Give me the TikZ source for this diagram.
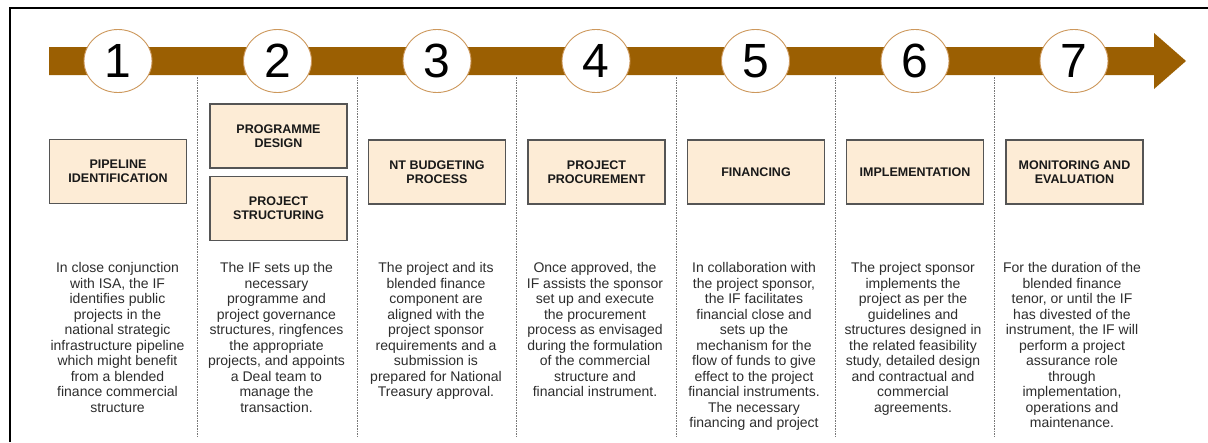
\documentclass[tikz,border=0pt]{standalone}
\usepackage{fontspec}
\setmainfont{Liberation Sans}
\usetikzlibrary{shapes.geometric}
\definecolor{barbrown}{RGB}{155,95,2}
\definecolor{ringtan}{RGB}{205,152,92}
\definecolor{boxfill}{RGB}{253,236,214}
\definecolor{boxline}{RGB}{85,85,85}
\definecolor{bodytext}{RGB}{45,45,45}
\definecolor{sepgray}{RGB}{120,120,120}
\tikzset{
  stepnum/.style={ellipse, draw=ringtan, line width=0.9pt, fill=white,
    minimum width=68pt, minimum height=63pt, inner sep=0pt,
    font=\fontsize{48}{48}\selectfont, text=black},
  stagebox/.style={rectangle, draw=boxline, line width=1.3pt, fill=boxfill,
    minimum width=137pt, minimum height=64pt, inner sep=0pt, align=center,
    font=\fontsize{12.5}{14}\selectfont\bfseries, text=black!90},
  desc/.style={anchor=north, inner sep=0pt, align=center,
    font=\fontsize{14}{15.5}\selectfont, text=bodytext},
  separator/.style={draw=sepgray, line width=0.8pt, dash pattern=on 1.6pt off 1pt},
}
\begin{document}
\begin{tikzpicture}[x=1pt, y=-1pt]
\useasboundingbox (0,0) rectangle (1208,442);

% frame edges
\draw[line width=2pt, black] (10,442) -- (10,8) -- (1208,8);

% timeline arrow
\fill[barbrown] (49,47) -- (1154,47) -- (1154,33) -- (1186,61)
  -- (1154,89) -- (1154,75) -- (49,75) -- cycle;

% column separators
\foreach \i/\x in {1/197.5, 2/357, 3/516.5, 4/676, 5/835, 6/994} {
  \coordinate (s\i top) at (\x,77);
  \coordinate (s\i bot) at (\x,436);
  \draw[separator] (s\i top) -- (s\i bot);
}

% numbered markers
\foreach \n/\x in {1/118, 2/277.5, 3/437, 4/596, 5/755.5, 6/915, 7/1074}
  \node[stepnum] (c\n) at (\x,61) {\n};

% stage boxes
\node[stagebox] (b1) at (118,171.5) {PIPELINE\\IDENTIFICATION};
\node[stagebox] (b2a) at (278.5,136) {PROGRAMME\\DESIGN};
\node[stagebox] (b2b) at (278.5,208.5) {PROJECT\\STRUCTURING};
\node[stagebox] (b3) at (437,172) {NT BUDGETING\\PROCESS};
\node[stagebox] (b4) at (596.5,172) {PROJECT\\PROCUREMENT};
\node[stagebox] (b5) at (756,172) {FINANCING};
\node[stagebox] (b6) at (915,172) {IMPLEMENTATION};
\node[stagebox] (b7) at (1074.5,172) {MONITORING AND\\EVALUATION};

% descriptions
\node[desc] (t1) at (117.5,262.5) {In close conjunction\\with ISA, the IF\\identifies public\\projects in the\\national strategic\\infrastructure pipeline\\which might benefit\\from a blended\\finance commercial\\structure};
\node[desc] (t2) at (276.5,262.5) {The IF sets up the\\necessary\\programme and\\project governance\\structures, ringfences\\the appropriate\\projects, and appoints\\a Deal team to\\manage the\\transaction.};
\node[desc] (t3) at (436,262.5) {The project and its\\blended finance\\component are\\aligned with the\\project sponsor\\requirements and a\\submission is\\prepared for National\\Treasury approval.};
\node[desc] (t4) at (595,262.5) {Once approved, the\\IF assists the sponsor\\set up and execute\\the procurement\\process as envisaged\\during the formulation\\of the commercial\\structure and\\financial instrument.};
\node[desc] (t5) at (754,262.5) {In collaboration with\\the project sponsor,\\the IF facilitates\\financial close and\\sets up the\\mechanism for the\\flow of funds to give\\effect to the project\\financial instruments.\\The necessary\\financing and project};
\node[desc] (t6) at (913,262.5) {The project sponsor\\implements the\\project as per the\\guidelines and\\structures designed in\\the related feasibility\\study, detailed design\\and contractual and\\commercial\\agreements.};
\node[desc] (t7) at (1072,262.5) {For the duration of the\\blended finance\\tenor, or until the IF\\has divested of the\\instrument, the IF will\\perform a project\\assurance role\\through\\implementation,\\operations and\\maintenance.};
\end{tikzpicture}
\end{document}
